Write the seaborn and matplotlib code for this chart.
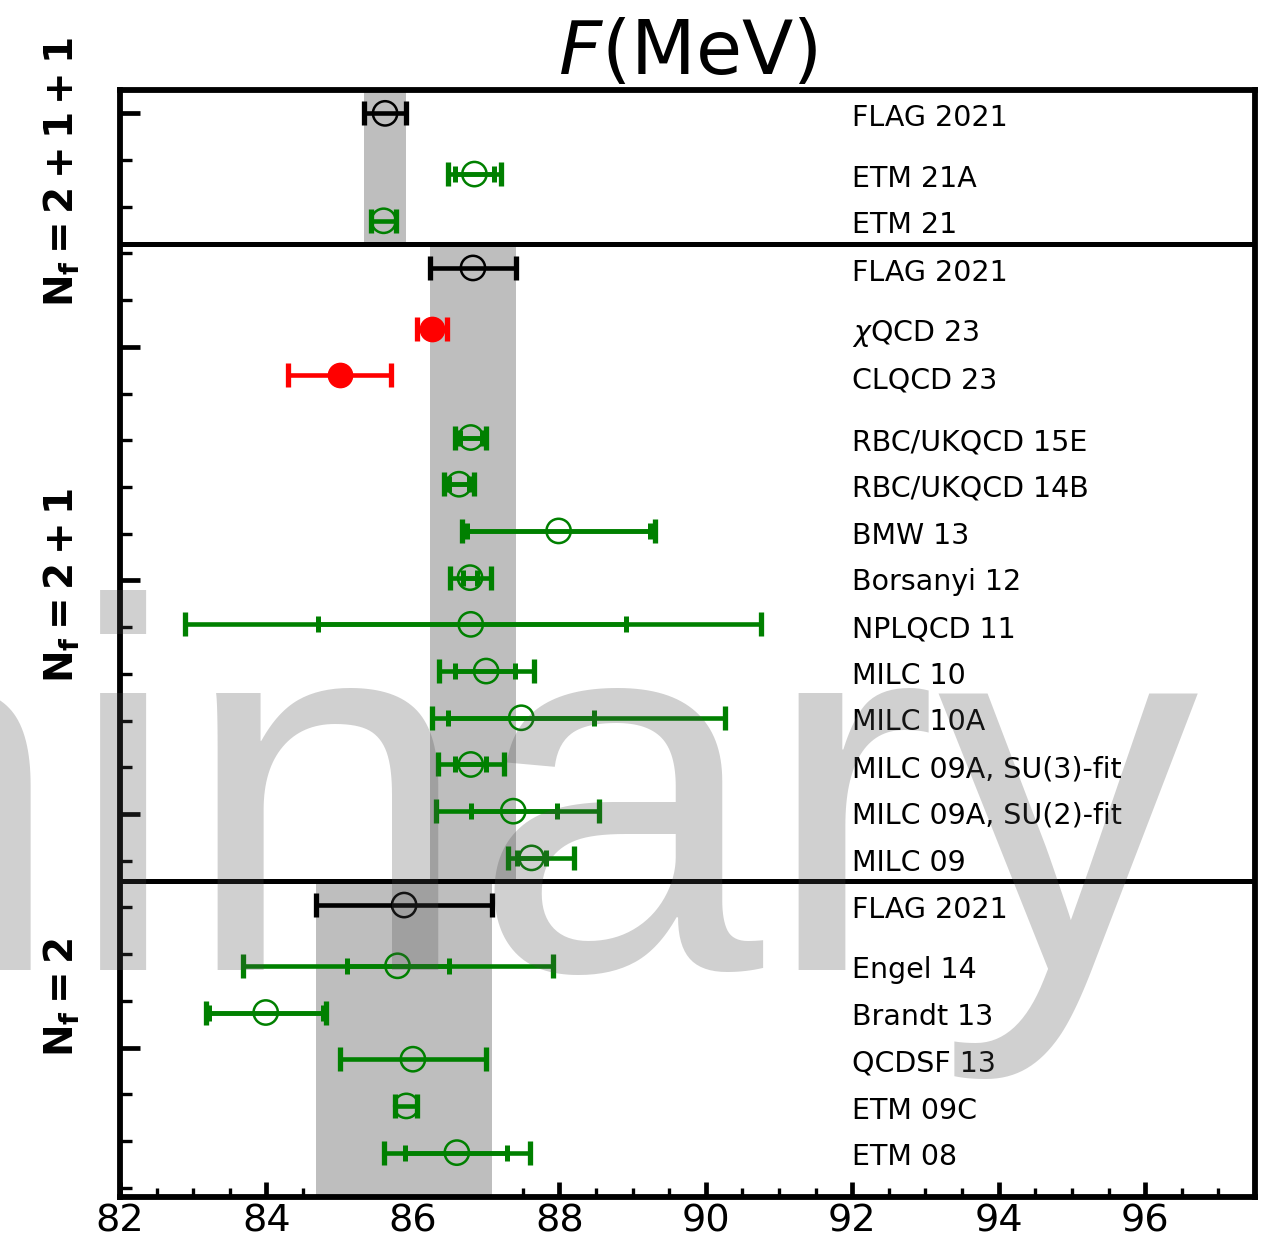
import numpy as np
import pandas as pd
import matplotlib
matplotlib.use("Agg")
import matplotlib.pyplot as plt
import matplotlib.transforms as mtransforms
from matplotlib.ticker import MultipleLocator, NullFormatter
import seaborn as sns

# ---------------------------------------------------------------- data
labels = [
    "FLAG 2021", "ETM 21A", "ETM 21",
    "FLAG 2021", r"$\chi$QCD 23", "CLQCD 23", "RBC/UKQCD 15E", "RBC/UKQCD 14B",
    "BMW 13", "Borsanyi 12", "NPLQCD 11", "MILC 10", "MILC 10A",
    "MILC 09A, SU(3)-fit", "MILC 09A, SU(2)-fit", "MILC 09",
    "FLAG 2021", "Engel 14", "Brandt 13", "QCDSF 13", "ETM 09C", "ETM 08",
]
panel = [0, 0, 0,
         1, 1, 1, 1, 1, 1, 1, 1, 1, 1, 1, 1, 1,
         2, 2, 2, 2, 2, 2]
kind = ["flag", "old", "old",
        "flag", "new", "new", "old", "old", "old", "old", "old", "old", "old",
        "old", "old", "old",
        "flag", "old", "old", "old", "old", "old"]

values = [85.62, 86.84, 85.60,
          86.82, 86.26, 85.00, 86.79, 86.63, 87.99, 86.78, 86.79, 87.00, 87.48,
          86.79, 87.37, 87.62,
          85.88, 85.79, 83.99, 86.00, 85.91, 86.60]
# total uncertainty (outer caps)
tot_lo = [0.29, 0.36, 0.17,
          0.59, 0.20, 0.70, 0.21, 0.20, 1.32, 0.28, 3.90, 0.65, 1.22,
          0.45, 1.06, 0.32,
          1.20, 2.11, 0.82, 1.00, 0.15, 1.00]
tot_hi = [0.29, 0.36, 0.17,
          0.59, 0.20, 0.70, 0.21, 0.20, 1.32, 0.28, 3.97, 0.65, 2.78,
          0.46, 1.17, 0.58,
          1.20, 2.12, 0.82, 1.00, 0.15, 1.00]
# statistical uncertainty (inner caps); nan = not shown
nan = np.nan
stat_lo = [nan, 0.27, nan,
           nan, nan, nan, 0.15, 0.14, 1.25, 0.10, 2.08, 0.42, 1.00,
           0.21, 0.58, 0.20,
           nan, 0.69, 0.78, nan, nan, 0.71]
stat_hi = [nan, 0.27, nan,
           nan, nan, nan, 0.15, 0.14, 1.25, 0.10, 2.12, 0.39, 0.99,
           0.21, 0.60, 0.20,
           nan, 0.70, 0.78, nan, nan, 0.69]

panel_titles = [r"$\mathbf{N_f = 2+1+1}$", r"$\mathbf{N_f = 2+1}$", r"$\mathbf{N_f = 2}$"]
x_ticks = [82, 84, 86, 88, 90, 92, 94, 96]
watermark = "Preliminary"

# ---------------------------------------------------------------- layout of rows
rows, seps = [], []
for i in range(len(labels)):
    if i == 0:
        y = 0.0
    elif panel[i] != panel[i - 1]:
        sep = y + 0.49
        seps.append(sep)
        y = sep + 0.52
    elif kind[i - 1] == "flag":
        y += 1.3
    elif kind[i - 1] == "new" and kind[i] != "new":
        y += 1.33
    else:
        y += 1.0
    rows.append(y)

y_top, y_bottom = -0.5, rows[-1] + 0.95
bounds = [y_top] + seps + [y_bottom]

df = pd.DataFrame({
    "label": labels, "panel": panel, "kind": kind, "value": values,
    "tot_lo": tot_lo, "tot_hi": tot_hi, "stat_lo": stat_lo, "stat_hi": stat_hi,
    "row": rows,
})

colors = {"flag": "black", "old": "#008000", "new": "#ff0000"}

# ---------------------------------------------------------------- figure
sns.set_theme(style="ticks")
plt.rcParams["font.family"] = ["DejaVu Sans"]
plt.rcParams["mathtext.fontset"] = "dejavusans"
for key in ["text.color", "axes.labelcolor", "xtick.color", "ytick.color",
            "axes.edgecolor"]:
    plt.rcParams[key] = "black"

fig = plt.figure(figsize=(12.65, 12.43), dpi=100)
ax = fig.add_axes([120 / 1265, 46 / 1243, 1135 / 1265, 1107 / 1243])

# FLAG averages as shaded bands over their panel
for p in range(3):
    f = df[(df.panel == p) & (df.kind == "flag")].iloc[0]
    ax.fill_betweenx([bounds[p], bounds[p + 1]],
                     f.value - f.tot_lo, f.value + f.tot_hi,
                     color="#bebebe", lw=0, zorder=1)

for s in seps:
    ax.axhline(s, color="black", lw=3.6, zorder=2)

# error bars: total (outer caps) and statistical (inner caps)
for _, r in df.iterrows():
    c = colors[r.kind]
    ax.errorbar([r.value], [r.row], xerr=[[r.tot_lo], [r.tot_hi]], fmt="none",
                ecolor=c, elinewidth=3.3, capsize=8.5, capthick=3.8, zorder=3)
    if not np.isnan(r.stat_lo):
        ax.errorbar([r.value], [r.row], xerr=[[r.stat_lo], [r.stat_hi]], fmt="none",
                    ecolor=c, elinewidth=3.3, capsize=5.6, capthick=3.6, zorder=3)

# central values
for k in ["flag", "old"]:
    sub = df[df.kind == k]
    sns.scatterplot(x=sub.value, y=sub.row, ax=ax, marker="o", s=17.5 ** 2,
                    facecolor="none", edgecolor=colors[k], linewidth=1.8,
                    zorder=4, legend=False)
sub = df[df.kind == "new"]
sns.scatterplot(x=sub.value, y=sub.row, ax=ax, marker="o", s=17.5 ** 2,
                color=colors["new"], edgecolor=colors["new"], linewidth=1.0,
                zorder=4, legend=False)

# labels of the individual results
for _, r in df.iterrows():
    ax.text(92.0, r.row + 0.1, r.label, fontsize=20.5, ha="left", va="center",
            color="black", zorder=5)

# panel titles on the left
trans = mtransforms.blended_transform_factory(ax.transAxes, ax.transData)
for ttl, yc in zip(panel_titles, [1.26, 10.1, 18.93]):
    ax.text(-0.051, yc, ttl, transform=trans, rotation=90, ha="center",
            va="center", fontsize=28, color="black", clip_on=False)

# axes styling
ax.set_xlim(82, 97.5)
ax.set_ylim(y_bottom, y_top)
ax.set_xticks(x_ticks)
ax.xaxis.set_minor_locator(MultipleLocator(0.5))
ax.yaxis.set_major_locator(MultipleLocator(5))
ax.yaxis.set_minor_locator(MultipleLocator(1))
ax.yaxis.set_major_formatter(NullFormatter())
ax.set_xlabel("")
ax.set_ylabel("")
ax.tick_params(axis="x", which="major", direction="in", length=11, width=3.4,
               labelsize=27.5, pad=5, top=False, colors="black")
ax.tick_params(axis="x", which="minor", direction="in", length=6.5, width=2.4,
               top=False, colors="black")
ax.tick_params(axis="y", which="major", direction="in", length=14.5, width=3.4,
               right=False, colors="black")
ax.tick_params(axis="y", which="minor", direction="in", length=8.5, width=2.4,
               right=False, colors="black")
for sp in ax.spines.values():
    sp.set_visible(True)
    sp.set_linewidth(4.2)
    sp.set_color("black")
ax.set_facecolor("white")
ax.set_title(r"$F$(MeV)", fontsize=54, pad=4, color="black")

# watermark across the figure
fig.text(-1417 / 1265, (1243 - 970) / 1243, watermark, fontsize=376.6,
         family="Liberation Sans", color=(0.29, 0.29, 0.29), alpha=0.26,
         ha="left", va="baseline", zorder=10)

fig.savefig("out.png", dpi=100, facecolor="white")
